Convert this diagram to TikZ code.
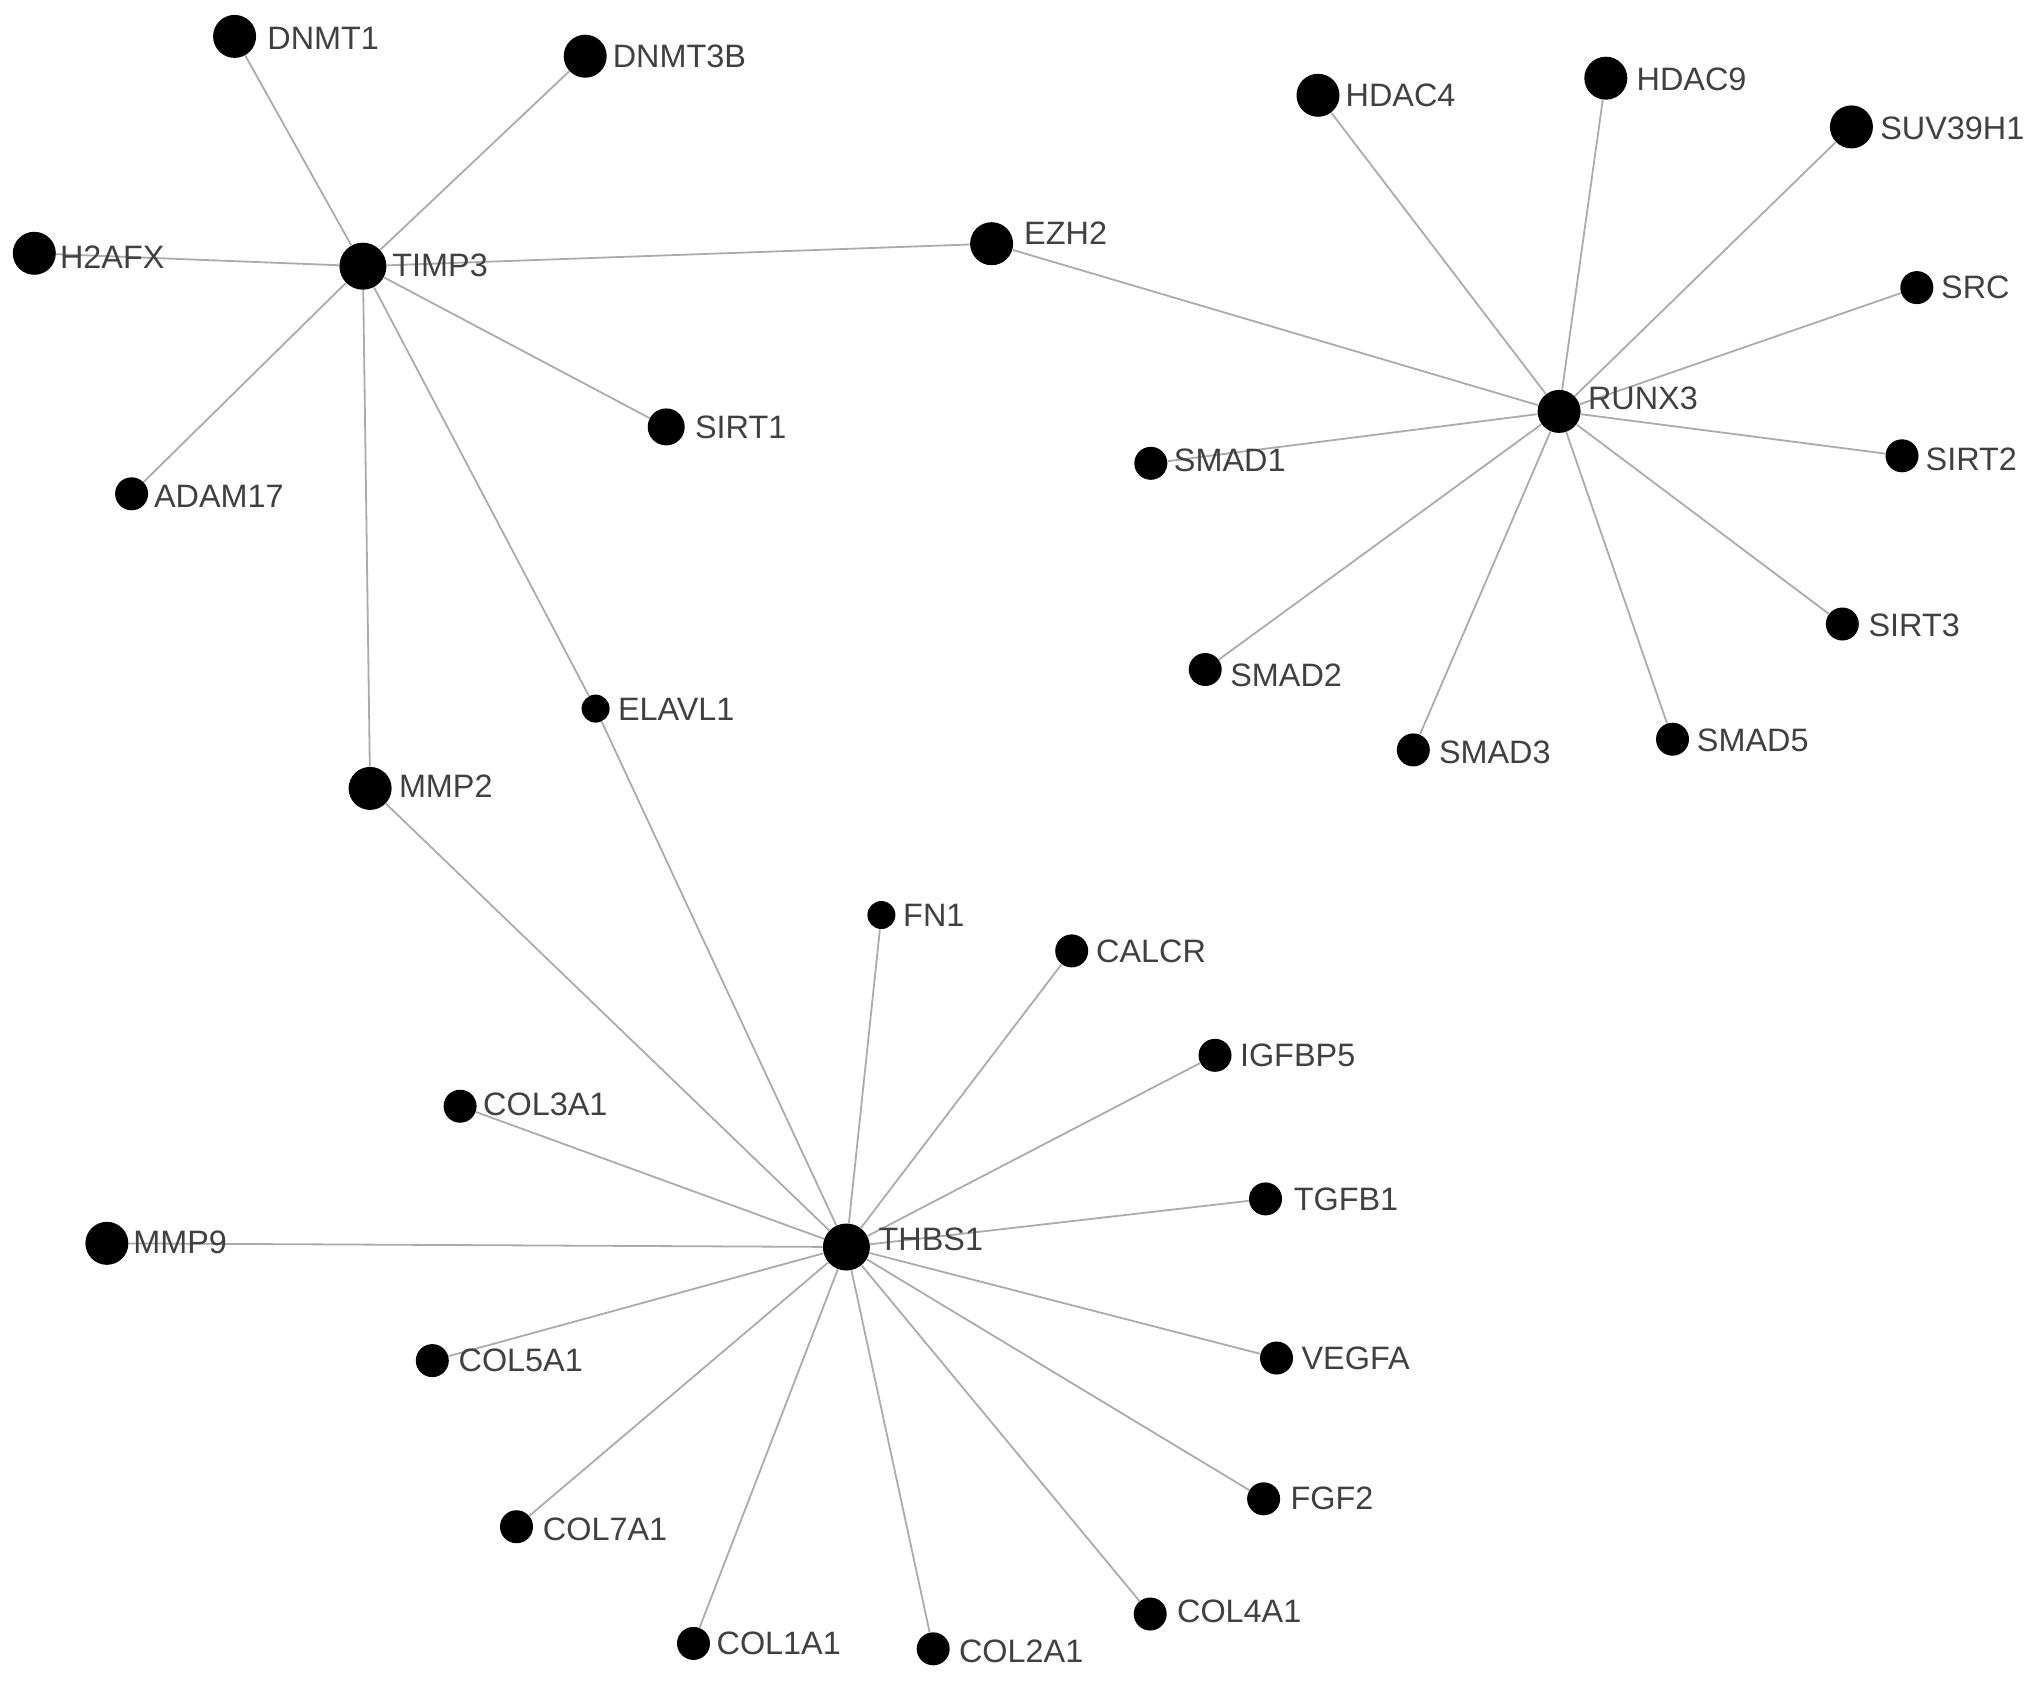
\documentclass[tikz,border=0pt]{standalone}
\usepackage{fontspec}
\setmainfont{Liberation Sans}
\definecolor{edgecol}{HTML}{ABABAB}
\definecolor{txtcol}{HTML}{404040}
\begin{document}
\begin{tikzpicture}[x=0.5pt,y=-0.5pt,
  dot/.style={circle,fill=black,draw=none,inner sep=0pt},
  hub/.style={dot,minimum size=23.5pt},
  big/.style={dot,minimum size=21.5pt},
  mid/.style={dot,minimum size=16.5pt},
  sml/.style={dot,minimum size=14pt},
  lbl/.style={anchor=west,inner sep=0pt,text=txtcol,font=\fontsize{16.2}{18}\selectfont},
  edge/.style={draw=edgecol,line width=0.9pt}]
\useasboundingbox (0,0) rectangle (2032,1681);
% circles
\node[hub] (TIMP3) at (362.9,266.2) {};
\node[big] (DNMT1) at (234.6,36.4) {};
\node[big] (DNMT3B) at (585.2,56.2) {};
\node[big] (H2AFX) at (34.3,253.3) {};
\node[mid] (ADAM17) at (131.6,493.8) {};
\node[dot,minimum size=18.5pt] (SIRT1) at (666.2,426.9) {};
\node[sml] (ELAVL1) at (595.6,708.6) {};
\node[big] (MMP2) at (370.1,788.4) {};
\node[big] (EZH2) at (991.6,243.7) {};
\node[big] (RUNX3) at (1559.1,411.4) {};
\node[big] (HDAC4) at (1318,95.3) {};
\node[big] (HDAC9) at (1605.8,78.2) {};
\node[big] (SUV39H1) at (1851.4,126.9) {};
\node[mid] (SRC) at (1916.8,287.6) {};
\node[mid] (SMAD1) at (1150.8,463.3) {};
\node[mid] (SIRT2) at (1902,455.8) {};
\node[mid] (SIRT3) at (1842.3,624) {};
\node[mid] (SMAD2) at (1205.2,669.5) {};
\node[mid] (SMAD3) at (1413.3,749.9) {};
\node[mid] (SMAD5) at (1672.5,739.2) {};
\node[hub] (THBS1) at (846.4,1247) {};
\node[sml] (FN1) at (881.4,915) {};
\node[mid] (COL3A1) at (460.1,1106.2) {};
\node[big] (MMP9) at (106.9,1243.3) {};
\node[mid] (COL5A1) at (432.3,1360.6) {};
\node[mid] (COL7A1) at (516.5,1526.7) {};
\node[mid] (COL1A1) at (693.5,1643.4) {};
\node[mid] (COL2A1) at (933.2,1648.8) {};
\node[mid] (CALCR) at (1071.7,950.9) {};
\node[mid] (IGFBP5) at (1215,1055.3) {};
\node[mid] (TGFB1) at (1265.5,1198.9) {};
\node[mid] (VEGFA) at (1276.5,1358) {};
\node[mid] (FGF2) at (1263.6,1498.8) {};
\node[mid] (COL4A1) at (1150.2,1614) {};
% edges
\foreach \n in {DNMT1,DNMT3B,H2AFX,ADAM17,SIRT1,ELAVL1,MMP2,EZH2}
  \path[edge] (TIMP3) -- (\n);
\path[edge] (EZH2) -- (RUNX3);
\foreach \n in {HDAC4,HDAC9,SUV39H1,SRC,SIRT2,SIRT3,SMAD5,SMAD3,SMAD2,SMAD1}
  \path[edge] (RUNX3) -- (\n);
\foreach \n in {MMP2,ELAVL1,FN1,CALCR,IGFBP5,TGFB1,VEGFA,FGF2,COL4A1,COL2A1,COL1A1,COL7A1,COL5A1,MMP9,COL3A1}
  \path[edge] (THBS1) -- (\n);
% labels
\node[lbl] (tDNMT1) at (267,38.6) {DNMT1};
\node[lbl] (tDNMT3B) at (612.4,56.2) {DNMT3B};
\node[lbl] (tH2AFX) at (59.6,257) {H2AFX};
\node[lbl] (tTIMP3) at (392,265) {TIMP3};
\node[lbl] (tSIRT1) at (694.7,427) {SIRT1};
\node[lbl] (tADAM17) at (153.6,496.5) {ADAM17};
\node[lbl] (tELAVL1) at (617.6,709.7) {ELAVL1};
\node[lbl] (tMMP2) at (398.6,786) {MMP2};
\node[lbl] (tEZH2) at (1023.8,233) {EZH2};
\node[lbl] (tHDAC4) at (1345.2,95.3) {HDAC4};
\node[lbl] (tHDAC9) at (1636.2,79.3) {HDAC9};
\node[lbl] (tSUV39H1) at (1879.9,128.5) {SUV39H1};
\node[lbl] (tSRC) at (1940.8,287.6) {SRC};
\node[lbl] (tRUNX3) at (1587.6,398) {RUNX3};
\node[lbl] (tSMAD1) at (1173.5,460.6) {SMAD1};
\node[lbl] (tSIRT2) at (1925.3,459) {SIRT2};
\node[lbl] (tSIRT3) at (1868.2,625) {SIRT3};
\node[lbl] (tSMAD2) at (1229.9,674.9) {SMAD2};
\node[lbl] (tSMAD3) at (1438.6,752.5) {SMAD3};
\node[lbl] (tSMAD5) at (1696.5,740.8) {SMAD5};
\node[lbl] (tFN1) at (902.8,915) {FN1};
\node[lbl] (tCOL3A1) at (482.8,1104) {COL3A1};
\node[lbl] (tMMP9) at (132.9,1242.8) {MMP9};
\node[lbl] (tTHBS1) at (878.2,1239) {THBS1};
\node[lbl] (tCOL5A1) at (458.2,1360.6) {COL5A1};
\node[lbl] (tCOL7A1) at (542.5,1529.3) {COL7A1};
\node[lbl] (tCOL1A1) at (716.2,1643.4) {COL1A1};
\node[lbl] (tCOL2A1) at (958.6,1651) {COL2A1};
\node[lbl] (tCALCR) at (1095.7,950.9) {CALCR};
\node[lbl] (tIGFBP5) at (1239.6,1055) {IGFBP5};
\node[lbl] (tTGFB1) at (1293.4,1199) {TGFB1};
\node[lbl] (tVEGFA) at (1301.2,1358) {VEGFA};
\node[lbl] (tFGF2) at (1290.1,1498.8) {FGF2};
\node[lbl] (tCOL4A1) at (1176.7,1611) {COL4A1};
\end{tikzpicture}
\end{document}
